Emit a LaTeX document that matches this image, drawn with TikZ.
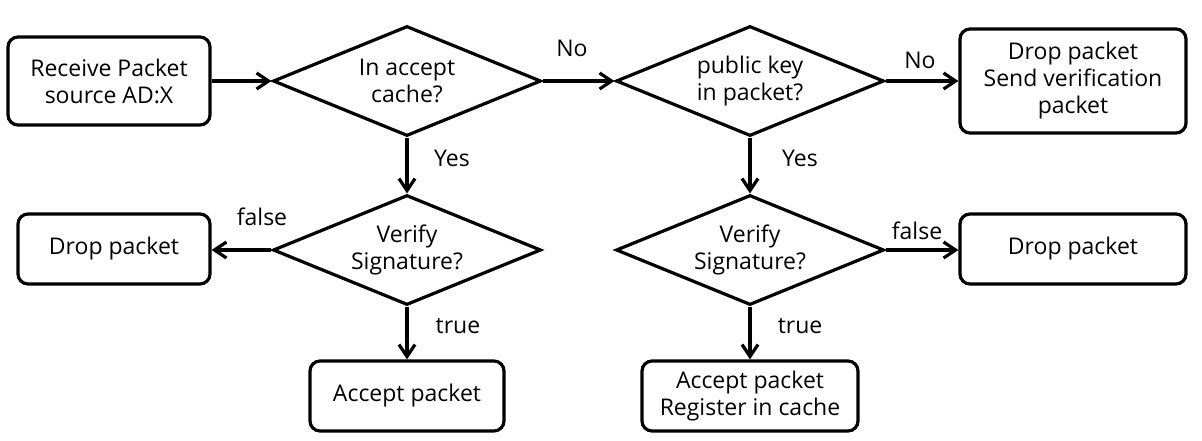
\documentclass[tikz,border=0pt]{standalone}
\usepackage{fontspec}
\setmainfont{Open Sans}
\usetikzlibrary{arrows.meta,shapes.geometric}
\tikzset{
  proc/.style={draw,rounded corners=5pt,line width=1.6pt,align=center,inner sep=2pt},
  decide/.style={draw,diamond,aspect=2.4,line width=1.6pt,align=center,inner sep=0pt,
    minimum width=134pt,minimum height=55pt},
  lbl/.style={inner sep=1pt},
  flow/.style={->,line width=1.6pt}
}
\begin{document}
\begin{tikzpicture}[x=0.5pt,y=-0.5pt,>={Straight Barb[length=6pt,width=8pt]},
  font=\fontsize{11.5}{13.5}\selectfont]
\useasboundingbox (0,0) rectangle (1202,440);
% boxes
\node[proc,minimum width=101pt,minimum height=44pt] (recv) at (109,81) {Receive Packet\\source AD:X};
\node[proc,minimum width=96pt,minimum height=35pt] (dropL) at (114,249) {Drop packet};
\node[proc,minimum width=97pt,minimum height=35pt] (accL) at (407,396) {Accept packet};
\node[proc,minimum width=113pt,minimum height=52pt] (dropV) at (1073,81) {Drop packet\\Send verification\\packet};
\node[proc,minimum width=113pt,minimum height=35pt] (dropR) at (1073,249) {Drop packet};
\node[proc,minimum width=108pt,minimum height=35pt] (accR) at (750,396) {Accept packet\\Register in cache};
% decisions
\node[decide] (cache) at (407,81) {In accept\\cache?};
\node[decide] (pkey) at (750,81) {public key\\in packet?};
\node[decide] (verL) at (407,250) {Verify\\Signature?};
\node[decide] (verR) at (750,250) {Verify\\Signature?};
% connectors
\draw[flow] (recv) -- (cache.west);
\draw[flow] (cache.east) -- (pkey.west);
\draw[flow] (pkey.east) -- (dropV.west |- pkey.east);
\draw[flow] (cache.south) -- (verL.north);
\draw[flow] (pkey.south) -- (verR.north);
\draw[flow] (verL.west) -- (dropL.east |- verL.west);
\draw[flow] (verR.east) -- (dropR.west |- verR.east);
\draw[flow] (verL.south) -- (accL.north);
\draw[flow] (verR.south) -- (accR.north);
% labels
\node[lbl] (no1) at (572,48) {No};
\node[lbl] (no2) at (920,60) {No};
\node[lbl] (yes1) at (452,158) {Yes};
\node[lbl] (yes2) at (800,158) {Yes};
\node[lbl] (fal1) at (262,217) {false};
\node[lbl] (fal2) at (917,231) {false};
\node[lbl] (tru1) at (458,326) {true};
\node[lbl] (tru2) at (800,326) {true};
\end{tikzpicture}
\end{document}
